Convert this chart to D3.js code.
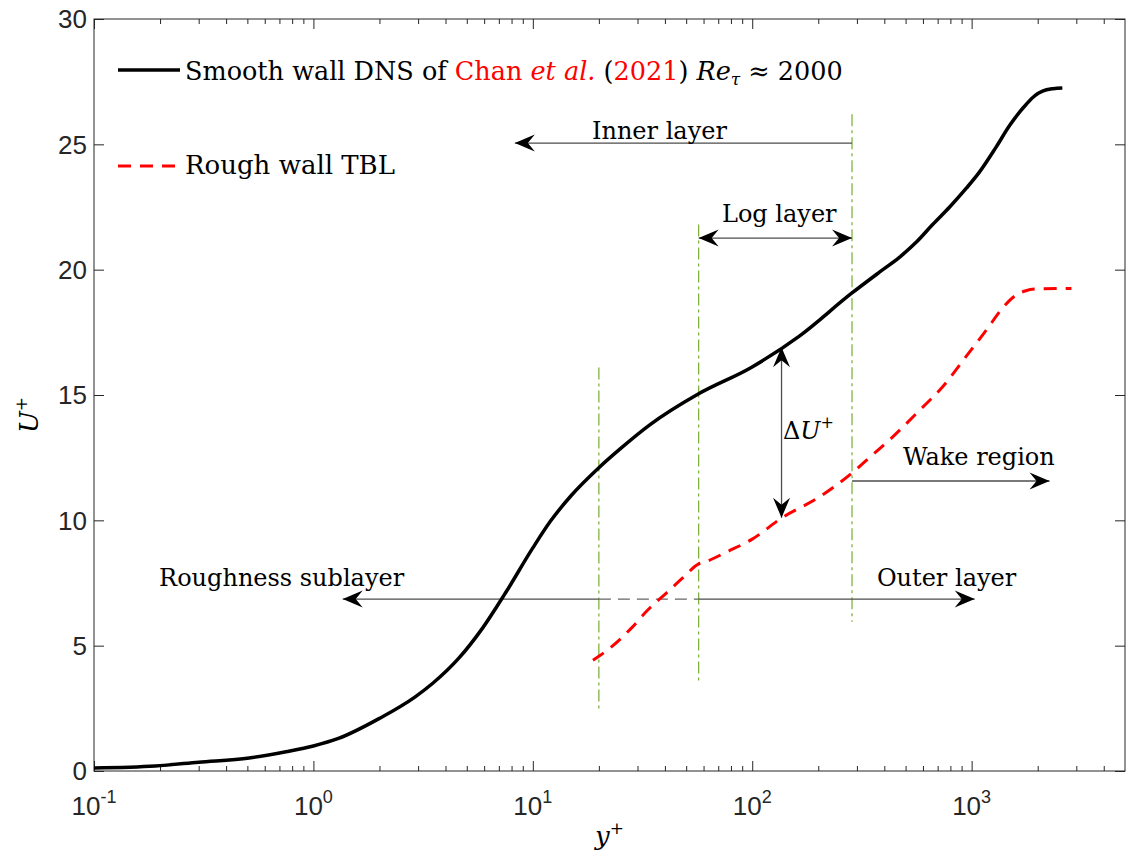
<!DOCTYPE html>
<html><head><meta charset="utf-8">
<script src="https://cdn.jsdelivr.net/npm/d3@7"></script>
<style>body{margin:0;background:#fff}</style>
</head><body>
<svg id="c" width="1127" height="853"></svg>
<script>
// ---- data ----
const smoothYp = [0.1, 0.19, 0.3, 0.51, 0.75, 1.0, 1.3, 2.0, 2.9, 3.5, 4.6, 5.9, 7.5, 10, 12, 15, 20, 25, 34, 57, 99, 164, 283, 380, 470, 560, 664, 794, 946, 1087, 1295, 1489, 1775, 1950, 2105, 2350, 2590];
const smoothU  = [0.12, 0.2, 0.35, 0.52, 0.77, 1.0, 1.3, 2.1, 2.95, 3.5, 4.5, 5.7, 7.1, 8.9, 9.95, 11.0, 12.1, 12.85, 13.8, 15.05, 16.1, 17.35, 19.05, 19.9, 20.5, 21.1, 21.8, 22.5, 23.25, 23.9, 24.9, 25.75, 26.6, 26.95, 27.12, 27.22, 27.25];
const roughYp  = [18.8, 23.1, 28.2, 33.4, 40.6, 48.2, 57, 61.8, 77, 100, 136, 203, 283, 331, 437, 579, 738, 946, 1167, 1384, 1597, 1750, 1936, 2850];
const roughU   = [4.42, 4.99, 5.71, 6.42, 7.1, 7.7, 8.26, 8.36, 8.75, 9.25, 10.09, 10.94, 11.87, 12.39, 13.33, 14.39, 15.33, 16.55, 17.59, 18.47, 18.99, 19.15, 19.23, 19.25];
const xMajorTicks = [0.1, 1, 10, 100, 1000];
const xTickExp = ["-1", "0", "1", "2", "3"];
const yTicks = [0, 5, 10, 15, 20, 25, 30];
const guideYp = [20, 57, 285];
const guideTop = [16.1, 21.8, 26.2];
const guideBottom = [2.45, 3.55, 5.95];
// arrows: [x1, u1, x2, u2, headAtStart, headAtEnd]
const arrows = [
  [285, 25.05, 8.28, 25.05, false, true],     // inner layer
  [57, 21.26, 285, 21.26, true, true],        // log layer
  [136, 16.9, 136, 10.1, true, true],         // delta U
  [285, 11.57, 2265, 11.57, false, true],     // wake region
  [20, 6.86, 1.36, 6.86, false, true],        // roughness sublayer
  [57, 6.86, 1033, 6.86, false, true]         // outer layer
];
const dashedLink = [20, 57, 6.86];
const labels = [
  ["Inner layer", 18.6, 25.23],
  ["Log layer", 72.8, 21.91],
  ["Wake region", 486, 12.2],
  ["Outer layer", 370, 7.38],
  ["Roughness sublayer", 0.198, 7.38]
];
const deltaLabel = [138, 13.24];

// ---- chart ----
const svg = d3.select("#c");
const L = 94, R = 1125, T = 19, B = 771;
const x = d3.scaleLog().domain([0.1, 5000]).range([L, R]);
const y = d3.scaleLinear().domain([0, 30]).range([B, T]);
const axisColor = "#262626";
const sans = "'Liberation Sans', Arial, sans-serif";
const serif = "'DejaVu Serif', serif";

const minor = [];
for (let e = -1; e <= 3; e++) for (let m = 2; m <= 9; m++) { const v = m * Math.pow(10, e); if (v < 5000) minor.push(v); }

function drawXAxis(g, orient, pos) {
  const mk = () => (orient === "bottom" ? d3.axisBottom(x) : d3.axisTop(x));
  g.attr("transform", `translate(0,${pos})`)
    .call(mk().tickValues(xMajorTicks).tickSize(-10).tickFormat(() => ""));
  g.select(".domain").remove();
  g.selectAll("line").attr("stroke", axisColor);
  const gm = g.append("g").call(mk().tickValues(minor).tickSize(-5).tickFormat(() => ""));
  gm.select(".domain").remove();
  gm.selectAll("line").attr("stroke", axisColor);
}
function drawYAxis(g, orient, pos) {
  const ax = (orient === "left" ? d3.axisLeft(y) : d3.axisRight(y));
  g.attr("transform", `translate(${pos},0)`)
    .call(ax.tickValues(yTicks).tickSize(-10).tickFormat(() => ""));
  g.select(".domain").remove();
  g.selectAll("line").attr("stroke", axisColor);
}
drawXAxis(svg.append("g"), "bottom", B);
drawXAxis(svg.append("g"), "top", T);
drawYAxis(svg.append("g"), "left", L);
drawYAxis(svg.append("g"), "right", R);
svg.append("rect").attr("x", L).attr("y", T).attr("width", R - L).attr("height", B - T)
  .attr("fill", "none").attr("stroke", axisColor).attr("stroke-width", 1);

// tick labels
svg.append("g").selectAll("text").data(yTicks).join("text")
  .attr("x", L - 7).attr("y", d => y(d)).attr("dy", "0.36em")
  .attr("text-anchor", "end").attr("font-family", sans).attr("font-size", 26)
  .attr("fill", axisColor).text(d => d);
const xl = svg.append("g").selectAll("text").data(xMajorTicks).join("text")
  .attr("x", d => x(d)).attr("y", B + 44)
  .attr("text-anchor", "middle").attr("font-family", sans).attr("font-size", 26)
  .attr("fill", axisColor);
xl.append("tspan").text("10");
xl.append("tspan").attr("dy", -12).attr("font-size", 18).text((d, i) => xTickExp[i]);

// axis titles
svg.append("text").attr("x", (L + R) / 2).attr("y", 845).attr("text-anchor", "middle")
  .attr("font-family", serif).attr("font-size", 26).attr("font-style", "italic")
  .html('y<tspan dy="-11" font-size="17" font-style="normal">+</tspan>');
svg.append("text").attr("transform", `translate(38,${(T + B) / 2 + 20}) rotate(-90)`)
  .attr("text-anchor", "middle")
  .attr("font-family", serif).attr("font-size", 26).attr("font-style", "italic")
  .html('U<tspan dy="-11" font-size="17" font-style="normal">+</tspan>');

// guide lines
const green = "#77AC30";
svg.append("g").selectAll("line").data(guideYp).join("line")
  .attr("x1", d => x(d)).attr("x2", d => x(d))
  .attr("y1", (d, i) => y(guideTop[i])).attr("y2", (d, i) => y(guideBottom[i]))
  .attr("stroke", green).attr("stroke-width", 1.2).attr("stroke-dasharray", "12,4,3,4");

// arrows
const arrowColor = "#4d4d4d";
const ag = svg.append("g");
function head(px, py, ang) {
  const Lh = 20, Wh = 8.5, N = 13;
  const p = `M0,0 L${-Lh},${-Wh} L${-N},0 L${-Lh},${Wh} Z`;
  ag.append("path").attr("d", p).attr("fill", "#000")
    .attr("transform", `translate(${px},${py}) rotate(${ang * 180 / Math.PI})`);
}
arrows.forEach(a => {
  const x1 = x(a[0]), y1 = y(a[1]), x2 = x(a[2]), y2 = y(a[3]);
  ag.append("line").attr("x1", x1).attr("y1", y1).attr("x2", x2).attr("y2", y2)
    .attr("stroke", arrowColor).attr("stroke-width", 1.3);
  const ang = Math.atan2(y2 - y1, x2 - x1);
  if (a[5]) head(x2, y2, ang);
  if (a[4]) head(x1, y1, ang + Math.PI);
});
ag.append("line").attr("x1", x(dashedLink[0])).attr("x2", x(dashedLink[1]))
  .attr("y1", y(dashedLink[2])).attr("y2", y(dashedLink[2]))
  .attr("stroke", "#666").attr("stroke-width", 1.3).attr("stroke-dasharray", "12,7");

// curves
const line = d3.line().x(d => x(d[0])).y(d => y(d[1])).curve(d3.curveMonotoneX);
svg.append("path").datum(smoothYp.map((v, i) => [v, smoothU[i]]))
  .attr("d", line).attr("fill", "none").attr("stroke", "#000").attr("stroke-width", 3.5);
svg.append("path").datum(roughYp.map((v, i) => [v, roughU[i]]))
  .attr("d", line).attr("fill", "none").attr("stroke", "#ff0000").attr("stroke-width", 3)
  .attr("stroke-dasharray", "13,9");

// labels
svg.append("g").selectAll("text").data(labels).join("text")
  .attr("x", d => x(d[1])).attr("y", d => y(d[2]))
  .attr("font-family", serif).attr("font-size", 24).attr("fill", "#000").text(d => d[0]);
svg.append("text").attr("x", x(deltaLabel[0])).attr("y", y(deltaLabel[1]))
  .attr("font-family", serif).attr("font-size", 24)
  .html('Δ<tspan font-style="italic">U</tspan><tspan dy="-11" font-size="16">+</tspan>');

// legend
svg.append("line").attr("x1", 118).attr("x2", 180).attr("y1", 70).attr("y2", 70)
  .attr("stroke", "#000").attr("stroke-width", 3.5);
svg.append("line").attr("x1", 118).attr("x2", 180).attr("y1", 166).attr("y2", 166)
  .attr("stroke", "#ff0000").attr("stroke-width", 3).attr("stroke-dasharray", "13,9");
svg.append("text").attr("x", 185).attr("y", 80).attr("font-family", serif).attr("font-size", 25.5)
  .html('Smooth wall DNS of <tspan fill="#ff0000">Chan</tspan> <tspan fill="#ff0000" font-style="italic">et al.</tspan> (<tspan fill="#ff0000">2021</tspan>) <tspan font-style="italic">Re</tspan><tspan font-style="italic" font-size="17" dy="5">τ</tspan><tspan dy="-5"> ≈ 2000</tspan>');
svg.append("text").attr("x", 185).attr("y", 174).attr("font-family", serif).attr("font-size", 26)
  .text("Rough wall TBL");
</script>
</body></html>
